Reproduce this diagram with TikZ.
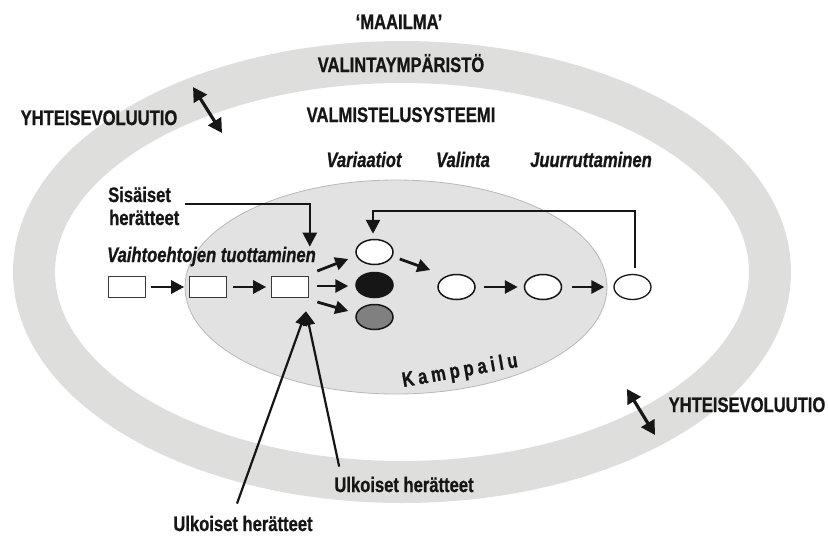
\documentclass[tikz,border=0pt]{standalone}
\usepackage{fontspec}
\setmainfont{Liberation Sans}
\newfontfamily\narrow[FakeStretch=0.79,FakeBold=0.8]{Liberation Sans}
\usetikzlibrary{arrows.meta,shapes.geometric,calc}
\definecolor{ringgray}{HTML}{DEDEDC}
\definecolor{discgray}{HTML}{E2E2E2}
\definecolor{discedge}{HTML}{B8B8B8}
\definecolor{ink}{HTML}{161616}
\definecolor{midgray}{HTML}{808080}

\begin{document}
\begin{tikzpicture}[x=1pt,y=-1pt,
  lbl/.style={font=\narrow\bfseries\fontsize{21}{23}\selectfont, text=ink, inner sep=0pt},
  ilbl/.style={font=\narrow\bfseries\itshape\fontsize{21}{23}\selectfont, text=ink, inner sep=0pt},
  box/.style={rectangle, draw=ink!85, line width=1.6pt, fill=white,
    minimum width=37pt, minimum height=21pt, inner sep=0pt},
  blob/.style={ellipse, draw=ink, line width=1.5pt,
    minimum width=37pt, minimum height=25pt, inner sep=0pt},
  arr/.style={draw=ink, line width=2.8pt, -{Triangle[length=13pt,width=13pt]}},
  feed/.style={draw=ink, line width=2.5pt, -{Triangle[length=14pt,width=14pt]}},
  thin arr/.style={draw=ink, line width=2.2pt, -{Triangle[length=14pt,width=12pt]}},
  twoway/.style={draw=ink, line width=3.2pt,
    {Triangle[length=14pt,width=15pt]}-{Triangle[length=14pt,width=15pt]}}
]
\useasboundingbox (0,0) rectangle (828,536);

% selection environment ring and the preparation system disc
\draw[ringgray, line width=42pt] (402,272) ellipse [x radius=368pt, y radius=210pt];
\draw[discedge, fill=discgray, line width=0.8pt] (396,287) ellipse [x radius=211pt, y radius=107pt];

% headings
\node[lbl, anchor=base] (world) at (399,29) {‘MAAILMA’};
\node[lbl, anchor=base] (env) at (401,72) {VALINTAYMPÄRISTÖ};
\node[lbl, anchor=base] (prep) at (401,122) {VALMISTELUSYSTEEMI};
\node[lbl, anchor=base] (coevoL) at (99,125) {YHTEISEVOLUUTIO};
\node[lbl, anchor=base] (coevoR) at (747,412) {YHTEISEVOLUUTIO};
\node[ilbl, anchor=base] (var) at (364,167) {Variaatiot};
\node[ilbl, anchor=base] (sel) at (463,167) {Valinta};
\node[ilbl, anchor=base] (ret) at (591,167) {Juurruttaminen};
\node[lbl, anchor=base west] (sis) at (108,202) {Sisäiset};
\node[lbl, anchor=base west] (sish) at (109,225) {herätteet};
\node[ilbl, anchor=base west] (gen) at (107,262) {Vaihtoehtojen tuottaminen};
\node[lbl, anchor=base, rotate=10] (comp) at (461,377)
  {K\kern4pt a\kern4pt m\kern4pt p\kern4pt p\kern4pt a\kern4pt i\kern4pt l\kern4pt u};
\node[lbl, anchor=base] (ext1) at (404,492) {Ulkoiset herätteet};
\node[lbl, anchor=base] (ext2) at (243,531) {Ulkoiset herätteet};

% alternatives
\node[box] (s1) at (127,287) {};
\node[box] (s2) at (208,287) {};
\node[box] (s3) at (290,287) {};

% variations
\node[blob, fill=white] (vw) at (374.5,252) {};
\node[blob, fill=ink] (vb) at (374.5,285) {};
\node[blob, fill=midgray] (vg) at (374.5,317) {};

% selection and retention
\node[blob, fill=white] (c4) at (456.5,287) {};
\node[blob, fill=white] (c5) at (543,287) {};
\node[blob, fill=white, line width=1.3pt] (c6) at (632.5,287) {};

% flow
\draw[arr, shorten <=4.5pt, shorten >=4.5pt] (s1) -- (s2);
\draw[arr, shorten <=6pt, shorten >=4.5pt] (s2) -- (s3);
\draw[arr] ($(s3.east)+(8,-16)$) -- ($(vw.west)+(-7,7)$);
\draw[arr] ($(s3.east)+(8,-1)$) -- ($(vb.west)+(-7,1)$);
\draw[arr] ($(s3.east)+(8,15)$) -- ($(vg.west)+(-7,-6)$);
\draw[arr] ($(vw.east)+(6,7)$) -- ($(c4.west)+(-7,-17)$);
\draw[arr, shorten <=8pt, shorten >=6pt] (c4) -- (c5);
\draw[arr, shorten <=10pt, shorten >=9pt] (c5) -- (c6);

% feedback from retention back to variation
\draw[feed] ($(c6.north)+(2.5,-6)$) -- ++(0,-57) -| ($(vw.north)+(-1.5,-5)$);

% internal stimuli
\draw[feed] ($(sis.base east)+(14,2)$) -| ($(s3.north east)+(0.5,-29)$);

% external stimuli
\coordinate (uh) at ($(s3.south)+(16,13)$);
\draw[thin arr] ($(ext2.north)+(-6,-12)$) -- (uh);
\draw[thin arr] ($(ext1.north west)+(5,-10)$) -- (uh);

% co-evolution
\coordinate (cl1) at (193,87);
\coordinate (cl2) at (222,133);
\draw[twoway] (cl1) -- (cl2);
\coordinate (cr1) at (627,389);
\coordinate (cr2) at (655,435);
\draw[twoway] (cr1) -- (cr2);
\end{tikzpicture}
\end{document}
